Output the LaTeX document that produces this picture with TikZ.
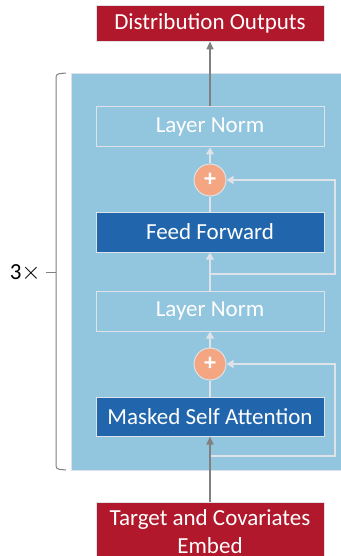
\documentclass[tikz,border=0pt]{standalone}
\usepackage{fontspec}
\setmainfont{Carlito}
\usetikzlibrary{arrows.meta}
\definecolor{embred}{HTML}{B2182B}
\definecolor{layerbg}{HTML}{92C5DE}
\definecolor{sublayer}{HTML}{2166AC}
\definecolor{addorange}{HTML}{F4A582}
\definecolor{pale}{HTML}{DDE3E8}
\definecolor{darkline}{HTML}{808080}
\begin{document}
\begin{tikzpicture}[x=1pt,y=-1pt,
    font=\fontsize{23}{28}\selectfont,
    iobox/.style={fill=embred,draw=pale,line width=0.8pt,text=white,
      minimum width=228pt,minimum height=36pt,inner sep=0pt},
    normbox/.style={draw=pale,line width=1pt,text=white,
      minimum width=228pt,minimum height=40pt,inner sep=0pt},
    subbox/.style={normbox,fill=sublayer},
    addnode/.style={circle,fill=addorange,draw=pale,line width=1pt,text=white,
      minimum size=32pt,inner sep=0pt,font=\fontsize{24}{24}\bfseries},
    flow/.style={draw=pale,line width=1.2pt},
    mainflow/.style={draw=darkline,line width=1.6pt}]
   \useasboundingbox (0,0) rectangle (340,556);
   % Decoder layer
   \draw[fill=layerbg,draw=pale,line width=0.6pt] (71,73) rectangle (352,470);
   % Blocks
   \node[iobox] (out) at (210,23) {Distribution Outputs};
   \node[normbox] (ln2) at (210,127) {Layer Norm};
   \node[addnode] (add2) at (210,180) {+};
   \node[subbox] (ff) at (210,232) {Feed Forward};
   \node[normbox] (ln1) at (210,311) {Layer Norm};
   \node[addnode] (add1) at (210,364) {+};
   \node[subbox,minimum height=39pt] (msa) at (210,416.5) {Masked Self Attention};
   \node[iobox,minimum height=60pt,align=center] (emb) at (210,532)
      {Target and Covariates\\Embed};
   % Inside the layer
   \draw[flow,-{Triangle[length=7pt,width=8pt]}] (add2) -- (ln2);
   \draw[flow] (ff) -- (add2);
   \draw[flow,-{Triangle[length=7pt,width=8pt]}] (ln1) -- (ff);
   \draw[flow,-{Triangle[length=7pt,width=8pt]}] (add1) -- (ln1);
   \draw[flow] (msa) -- (add1);
   % Residuals
   \coordinate (skip2) at (210,274);
   \coordinate (skip1) at (210,456);
   \draw[flow,-{Triangle[length=7pt,width=8pt]}] (skip2) -- (335,274) |- (add2);
   \draw[flow,-{Triangle[length=7pt,width=8pt]}] (skip1) -- (335,456) |- (add1);
   % In and out
   \draw[mainflow,-{Triangle[length=8pt,width=7pt]}] (emb) -- (msa);
   \draw[mainflow,-{Triangle[length=8pt,width=7pt]}] (ln2) -- (out);
   % Repeat bracket
   \draw[darkline,line width=1pt,rounded corners=3pt]
      (66,73) -- (56,74) -- (56,469) -- (66,470);
   \draw[darkline,line width=1pt] (56,272) -- (46,272);
   \node[anchor=east,inner sep=0pt] (rep) at (41,273) {3$\times$};
\end{tikzpicture}
\end{document}
